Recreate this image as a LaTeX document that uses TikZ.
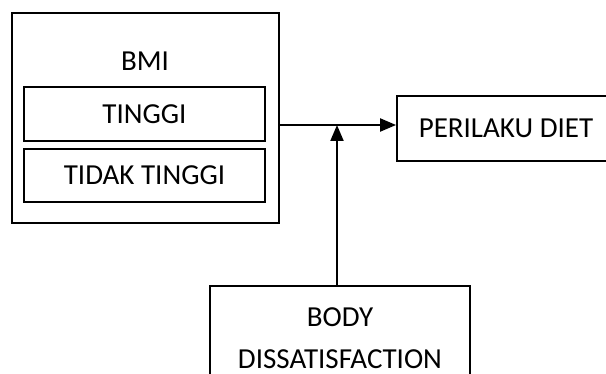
\documentclass[tikz,border=0pt]{standalone}
\usepackage{fontspec}
\setmainfont{Carlito}
\usetikzlibrary{arrows.meta}
\begin{document}
\begin{tikzpicture}[x=1pt,y=1pt,
  box/.style={draw=black,line width=1.8pt,rectangle,inner sep=0pt,font=\fontsize{29}{42}\selectfont},
  conn/.style={line width=2pt,-{Triangle[length=16pt,width=13pt]}}]
\clip (0,0) rectangle (606,-374);
\fill[white] (0,0) rectangle (606,-374);
\node[box,minimum width=267,minimum height=210] (outer) at (145.5,-118) {};
\node[font=\fontsize{29}{42}\selectfont] (bmi) at (145,-61) {BMI};
\node[box,minimum width=241,minimum height=54] (tinggi) at (144.5,-114) {TINGGI};
\node[box,minimum width=241,minimum height=53] (tidak) at (144.5,-175.5) {TIDAK TINGGI};
\node[box,minimum width=218,minimum height=65] (perilaku) at (506,-128.5) {PERILAKU DIET};
\node[box,minimum width=260,minimum height=104,align=center] (body) at (340,-338) {BODY\\DISSATISFACTION};
\coordinate (j) at (337,-125);
\draw[conn] (j -| outer.east) -- (j -| perilaku.west);
\draw[conn] (body.north -| j) -- (j);
\end{tikzpicture}
\end{document}
